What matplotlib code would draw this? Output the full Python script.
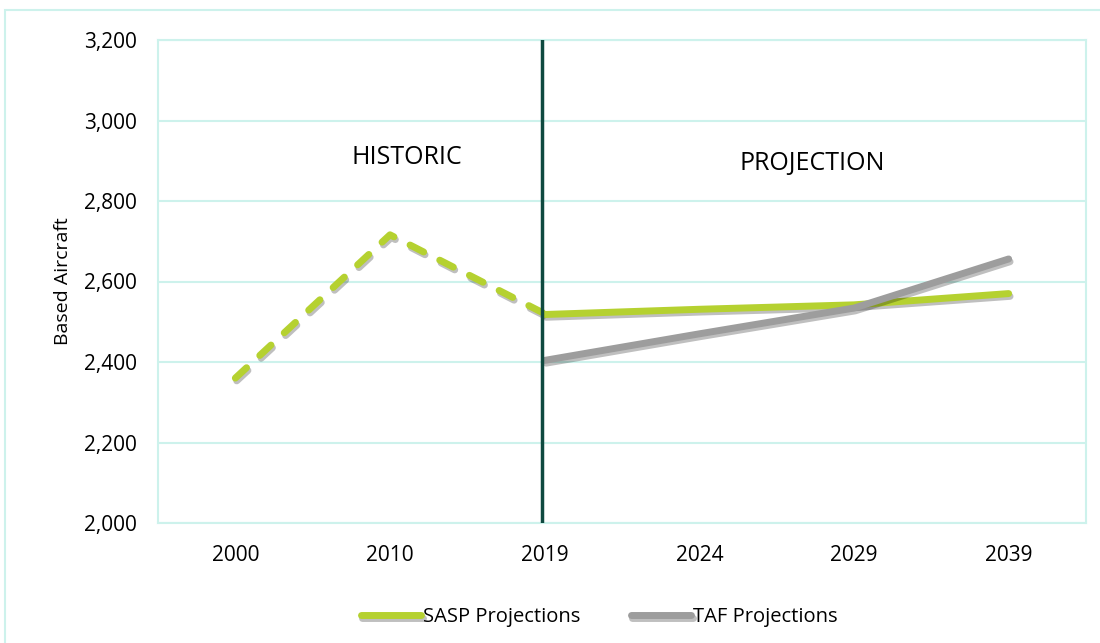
import matplotlib
matplotlib.use('Agg')
import matplotlib.pyplot as plt
import matplotlib.patheffects as pe
from matplotlib.patches import Rectangle

years = ['2000', '2010', '2019', '2024', '2029', '2039']
sasp_hist = [2360, 2716, 2520]
sasp_proj = [2518, 2531, 2542, 2570]
taf_proj = [2404, 2470, 2534, 2656]

green = '#b5d130'
grey = '#9d9d9d'
grid_c = '#cdf2ec'

plt.rcParams['font.family'] = ['Open Sans', 'DejaVu Sans']

fig = plt.figure(figsize=(11, 6.43), dpi=100)
# plot area: x 158..1086 px, y 40..523 px
ax = fig.add_axes([158 / 1100, 1 - 523 / 643, 928 / 1100, 483 / 643])

xs = list(range(len(years)))
shadow = [pe.SimpleLineShadow(offset=(1.0, -2.0), shadow_color='black', alpha=0.25), pe.Normal()]

ax.plot(xs[:3], sasp_hist, color=green, lw=5, dashes=(2.2, 2.6), solid_capstyle='round',
        dash_capstyle='round', path_effects=shadow, zorder=3)
ax.plot(xs[2:], sasp_proj, color=green, lw=5, solid_capstyle='round', path_effects=shadow,
        zorder=3, label='SASP Projections')
ax.plot(xs[2:], taf_proj, color=grey, lw=5, solid_capstyle='round', path_effects=shadow,
        zorder=4, label='TAF Projections')

ax.axvline(1.98, color='#0f4a40', lw=2.5, zorder=5)

ax.text(1.11, 2907, 'HISTORIC', fontsize=18, ha='center', va='center')
ax.text(3.73, 2894, 'PROJECTION', fontsize=18, ha='center', va='center')

ax.set_xlim(-0.5, 5.5)
ax.set_ylim(2000, 3200)
ax.set_xticks(xs)
ax.set_xticklabels(years)
ax.set_yticks(range(2000, 3201, 200))
ax.set_yticklabels(['{:,}'.format(v) for v in range(2000, 3201, 200)])
ax.tick_params(axis='y', length=0, labelsize=15, pad=15)
ax.tick_params(axis='x', length=0, labelsize=15, pad=16)
ax.grid(axis='y', color=grid_c, lw=1.5)
ax.set_axisbelow(True)
for s in ax.spines.values():
    s.set_color(grid_c)
    s.set_linewidth(1.5)
ax.set_ylabel('Based Aircraft', fontsize=14, labelpad=9)

leg = fig.legend(loc='center', bbox_to_anchor=(0.545, 0.04), ncol=2, frameon=False,
                 fontsize=14.5, handlelength=3.0, handletextpad=0.1, columnspacing=2.5)

fig.patches.append(Rectangle((5 / 1100, -0.01), 1.0, 1 - 10 / 643 + 0.01, transform=fig.transFigure,
                             fill=False, edgecolor=grid_c, lw=1.5))

fig.savefig('out.png', dpi=100)
